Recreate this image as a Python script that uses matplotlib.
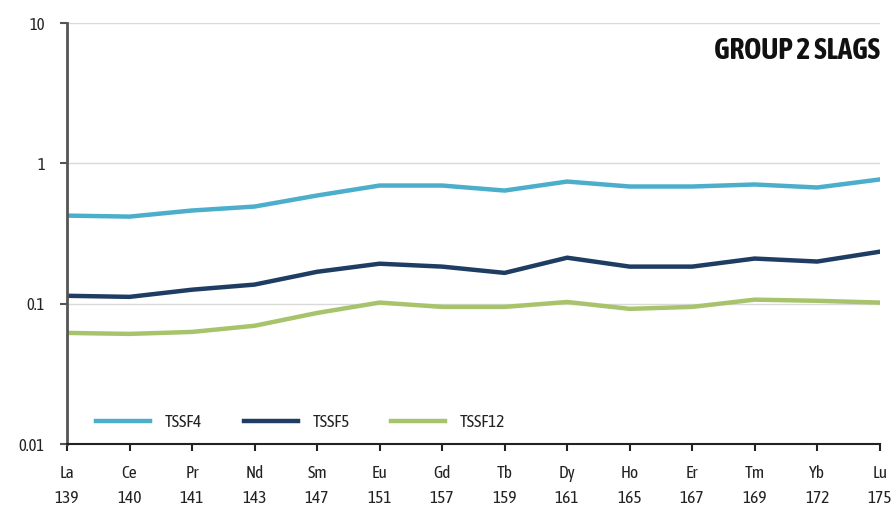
import matplotlib
matplotlib.use("Agg")
import matplotlib.pyplot as plt
from matplotlib.ticker import FixedLocator, FixedFormatter, NullLocator

plt.rcParams["font.family"] = ["Asap Condensed", "DejaVu Sans"]

elements = ["La", "Ce", "Pr", "Nd", "Sm", "Eu", "Gd", "Tb", "Dy", "Ho", "Er", "Tm", "Yb", "Lu"]
masses = ["139", "140", "141", "143", "147", "151", "157", "159", "161", "165", "167", "169", "172", "175"]

tssf4 = [0.425, 0.418, 0.462, 0.493, 0.591, 0.696, 0.696, 0.641, 0.743, 0.685, 0.685, 0.708, 0.674, 0.769]
tssf5 = [0.114, 0.112, 0.126, 0.137, 0.169, 0.193, 0.184, 0.166, 0.213, 0.184, 0.184, 0.210, 0.200, 0.235]
tssf12 = [0.062, 0.061, 0.063, 0.0697, 0.086, 0.102, 0.095, 0.095, 0.103, 0.092, 0.095, 0.107, 0.105, 0.102]

series = [
    ("TSSF4", tssf4, "#4BAECB"),
    ("TSSF5", tssf5, "#1F3D63"),
    ("TSSF12", tssf12, "#A7C46C"),
]

fig = plt.figure(figsize=(8.96, 5.14), dpi=100)
ax = fig.add_axes([0.0748, 0.136, 0.907, 0.819])

x = list(range(len(elements)))
for name, vals, color in series:
    ax.plot(x, vals, color=color, linewidth=3.2, label=name)

ax.set_yscale("log")
ax.set_ylim(0.01, 10)
ax.set_xlim(0, len(elements) - 1)

ax.yaxis.set_major_locator(FixedLocator([0.01, 0.1, 1, 10]))
ax.yaxis.set_major_formatter(FixedFormatter(["0.01", "0.1", "1", "10"]))
ax.yaxis.set_minor_locator(NullLocator())
ax.set_xticks(x)
ax.set_xticklabels([f"{e}\n{m}" for e, m in zip(elements, masses)], linespacing=1.65)

# light gridlines at the decades
for v in [0.1, 1, 10]:
    ax.axhline(v, color="#d9d9d9", linewidth=1.0, zorder=0)

for s in ["top", "right"]:
    ax.spines[s].set_visible(False)
ax.spines["left"].set_color("#555555")
ax.spines["left"].set_linewidth(2.0)
ax.spines["bottom"].set_color("#222222")
ax.spines["bottom"].set_linewidth(1.5)

ax.tick_params(axis="x", direction="out", length=5, width=1.5, color="#222222",
               labelsize=12.5, labelcolor="#222222", pad=10)
ax.tick_params(axis="y", direction="out", length=5, width=1.5, color="#555555",
               labelsize=12, labelcolor="#222222", pad=11)

ax.text(1.0, 0.935, "GROUP 2 SLAGS", transform=ax.transAxes, ha="right", va="center",
        fontsize=21, fontweight="bold", color="#111111")

ax.legend(loc="center left", bbox_to_anchor=(0.0357, 0.052), ncol=3, frameon=False,
          prop={"size": 12.5}, handlelength=3.1, handletextpad=0.86, columnspacing=2.4,
          borderpad=0, borderaxespad=0, labelcolor="#222222")

fig.savefig("out.png", dpi=100)
